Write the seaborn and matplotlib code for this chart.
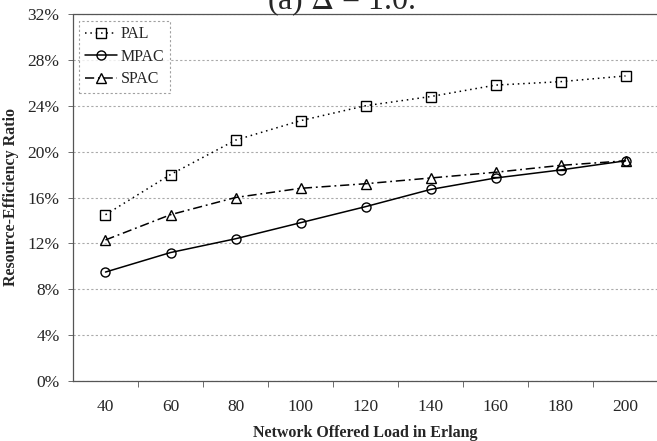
import matplotlib
matplotlib.use("Agg")
import matplotlib.pyplot as plt
import seaborn as sns
import pandas as pd
from matplotlib.ticker import FixedLocator, PercentFormatter

# Offered load (Erlang) and resource-efficiency ratio (%) for each scheme
loads = [40, 60, 80, 100, 120, 140, 160, 180, 200]
pal = [14.5, 18.0, 21.0, 22.7, 24.0, 24.8, 25.8, 26.1, 26.6]
mpac = [9.5, 11.2, 12.4, 13.8, 15.2, 16.7, 17.7, 18.4, 19.2]
spac = [12.3, 14.5, 16.0, 16.8, 17.2, 17.7, 18.2, 18.8, 19.2]
y_ticks = [0, 4, 8, 12, 16, 20, 24, 28, 32]

sns.set_style("white")
plt.rcParams["font.family"] = ["Liberation Serif", "DejaVu Serif"]
plt.rcParams["mathtext.fontset"] = "stix"

df = pd.DataFrame({
    "load": loads * 3,
    "ratio": pal + mpac + spac,
    "scheme": ["PAL"] * 9 + ["MPAC"] * 9 + ["SPAC"] * 9,
})

fig = plt.figure(figsize=(6.57, 4.41), dpi=100)
ax = fig.add_axes([73 / 657, 60 / 441, 585 / 657, 367 / 441])

styles = {
    "PAL": dict(marker="s", linestyle=(0, (1, 2.5))),
    "MPAC": dict(marker="o", linestyle="-"),
    "SPAC": dict(marker="^", linestyle=(0, (6, 2.5, 1.2, 2.5))),
}
for name in ["PAL", "MPAC", "SPAC"]:
    sub = df[df["scheme"] == name]
    sns.lineplot(data=sub, x="load", y="ratio", ax=ax, color="black",
                 linewidth=1.1, markersize=6.5, markerfacecolor="none",
                 markeredgecolor="black", markeredgewidth=1.0,
                 label=name, **styles[name])

ax.set_xlim(30, 210)
ax.set_ylim(0, 32)
ax.xaxis.set_major_locator(FixedLocator(loads))
ax.xaxis.set_minor_locator(FixedLocator([50, 70, 90, 110, 130, 150, 170, 190]))
ax.tick_params(axis="x", which="major", length=0, pad=13, labelsize=12.5)
ax.tick_params(axis="x", which="minor", length=4, width=0.6, direction="out",
               color="#555555")
ax.set_yticks(y_ticks)
ax.yaxis.set_major_formatter(PercentFormatter(decimals=0))
ax.tick_params(axis="y", length=3.6, width=0.6, direction="out", pad=6,
               labelsize=12.5, color="#555555")
ax.tick_params(bottom=True, left=True, which="both")

ax.grid(axis="y", color="#aaaaaa", linestyle=(0, (2, 2)), linewidth=0.8)
ax.grid(axis="x", visible=False)
for side in ["left", "bottom", "top"]:
    ax.spines[side].set_visible(True)
    ax.spines[side].set_color("#555555")
    ax.spines[side].set_linestyle((0, (2, 1)))
    ax.spines[side].set_linewidth(0.9)
ax.spines["right"].set_visible(False)

ax.set_xlabel("Network Offered Load in Erlang", fontsize=11.5,
              fontweight="bold", labelpad=7)
ax.set_ylabel("Resource-Efficiency Ratio", fontsize=11.5, fontweight="bold",
              labelpad=6)

leg = ax.legend(loc="upper left", bbox_to_anchor=(0.005, 0.99), fontsize=11.5,
                frameon=True, fancybox=False, handlelength=2.0,
                handletextpad=0.25, borderpad=0.35, labelspacing=0.4,
                borderaxespad=0.2)
frame = leg.get_frame()
frame.set_edgecolor("#888888")
frame.set_linestyle((0, (2, 2)))
frame.set_linewidth(0.8)

fig.text(341 / 657, 1 - 9 / 441, r"(a) $\Delta$ = 1.0.", ha="center",
         va="baseline", fontsize=23)

fig.savefig("out.png", dpi=100)
